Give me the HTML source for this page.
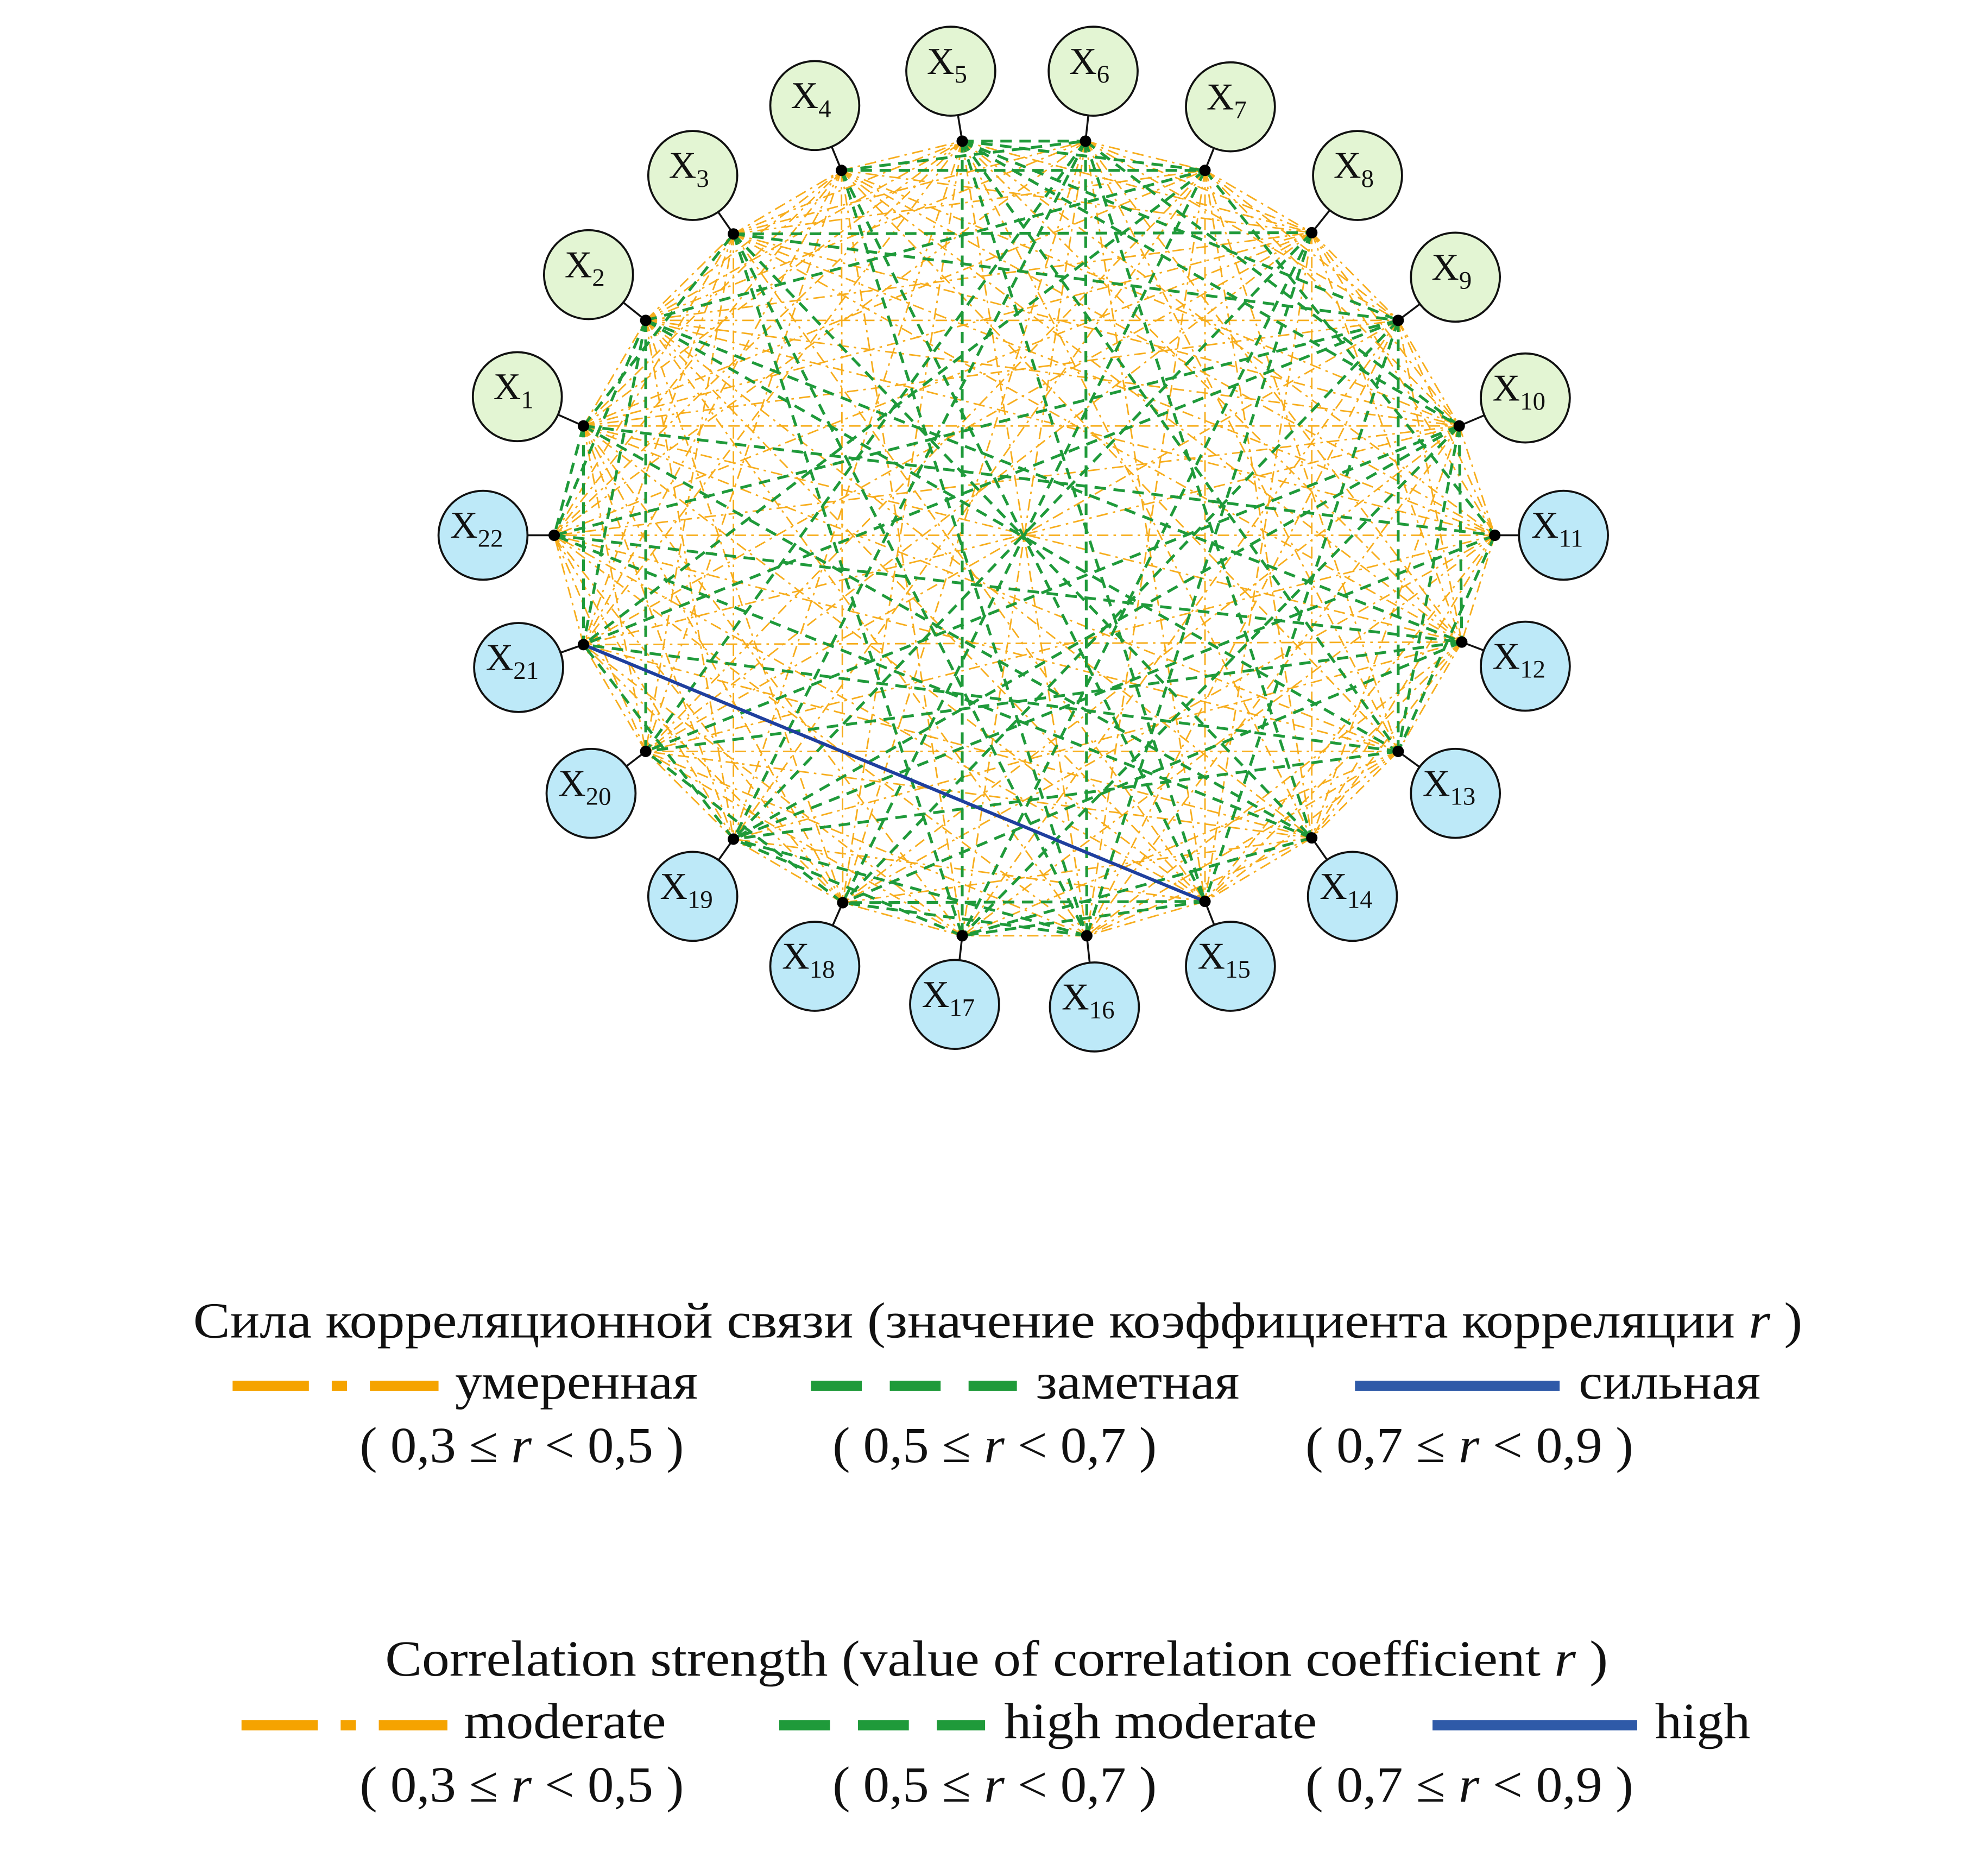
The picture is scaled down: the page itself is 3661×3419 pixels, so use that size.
<!DOCTYPE html>
<html><head><meta charset="utf-8"><style>
html,body{margin:0;padding:0;background:#fff;}
svg{display:block;}
text{font-family:"Liberation Serif",serif;fill:#111;}
</style></head><body>
<svg id="s" width="3661" height="3419" viewBox="0 0 1564 1460.6" xmlns="http://www.w3.org/2000/svg">
<g id="edges"></g>
<g id="nodes"></g>
<g font-size="40">
<text x="152" y="1052" textLength="1266" lengthAdjust="spacingAndGlyphs">Сила корреляционной связи (значение коэффициента корреляции  <tspan font-style="italic">r</tspan> )</text>
<line x1="183" y1="1090" x2="345" y2="1090" stroke="#f5a300" stroke-width="8" stroke-dasharray="60,18,12,18"/>
<line x1="638" y1="1090" x2="800" y2="1090" stroke="#1f9a3a" stroke-width="8" stroke-dasharray="40,22"/>
<line x1="1066" y1="1090" x2="1227" y2="1090" stroke="#2f5aa8" stroke-width="8"/>
<text x="358" y="1100" textLength="191" lengthAdjust="spacingAndGlyphs">умеренная</text>
<text x="815" y="1100" textLength="160" lengthAdjust="spacingAndGlyphs">заметная</text>
<text x="1242" y="1100" textLength="143" lengthAdjust="spacingAndGlyphs">сильная</text>
<text x="283" y="1150" textLength="255" lengthAdjust="spacingAndGlyphs">( 0,3 ≤ <tspan font-style="italic">r</tspan> &lt; 0,5 )</text>
<text x="655" y="1150" textLength="255" lengthAdjust="spacingAndGlyphs">( 0,5 ≤ <tspan font-style="italic">r</tspan> &lt; 0,7 )</text>
<text x="1027" y="1150" textLength="258" lengthAdjust="spacingAndGlyphs">( 0,7 ≤ <tspan font-style="italic">r</tspan> &lt; 0,9 )</text>
<text x="303" y="1318" textLength="962" lengthAdjust="spacingAndGlyphs">Correlation strength (value of correlation coefficient  <tspan font-style="italic">r</tspan> )</text>
<line x1="190" y1="1357" x2="352" y2="1357" stroke="#f5a300" stroke-width="8" stroke-dasharray="60,18,12,18"/>
<line x1="613" y1="1357" x2="775" y2="1357" stroke="#1f9a3a" stroke-width="8" stroke-dasharray="40,22"/>
<line x1="1127" y1="1357" x2="1288" y2="1357" stroke="#2f5aa8" stroke-width="8"/>
<text x="365" y="1367" textLength="159" lengthAdjust="spacingAndGlyphs">moderate</text>
<text x="790" y="1367" textLength="246" lengthAdjust="spacingAndGlyphs">high moderate</text>
<text x="1302" y="1367" textLength="75" lengthAdjust="spacingAndGlyphs">high</text>
<text x="283" y="1417" textLength="255" lengthAdjust="spacingAndGlyphs">( 0,3 ≤ <tspan font-style="italic">r</tspan> &lt; 0,5 )</text>
<text x="655" y="1417" textLength="255" lengthAdjust="spacingAndGlyphs">( 0,5 ≤ <tspan font-style="italic">r</tspan> &lt; 0,7 )</text>
<text x="1027" y="1417" textLength="258" lengthAdjust="spacingAndGlyphs">( 0,7 ≤ <tspan font-style="italic">r</tspan> &lt; 0,9 )</text>
</g>
</svg>
<script>
var C=[[407,312],[463,216],[545,138],[641,83],[748,56],[860,56],[968,84],[1068,138],[1145,218],[1200,313],[1230,421],[1200,524],[1145,624],[1064,705],[968,760],[861,792],[751,790],[641,760],[545,705],[465,624],[408,525],[380,421]];
var D=[[459,335],[508,252],[577,184],[662,134],[757,111],[854,111],[948,134],[1032,183],[1100,252],[1148,335],[1176,421],[1150,505],[1100,591],[1032,659],[948,709],[855,736],[757,736],[663,710],[577,660],[508,591],[459,507],[436,421]];
var G=[[5,17],[6,16],[6,19],[6,20],[5,13],[7,18],[7,21],[8,19],[3,14],[2,13],[9,21],[9,22],[10,20],[9,15],[1,14],[3,16],[4,15],[2,12],[11,19],[12,18],[13,19],[14,17],[12,20],[10,17],[3,9],[5,9],[4,7],[6,10],[1,21],[2,22],[1,3],[2,20],[9,13],[10,12],[11,13],[15,17],[16,18],[17,19],[18,20],[19,21],[3,17],[8,17],[6,14],[5,15],[4,16],[9,18],[10,19],[22,12],[1,11],[2,7],[3,8],[5,10],[7,11],[8,16],[13,21],[14,22],[1,22],[2,21],[10,13],[5,7],[4,6],[5,6],[15,18],[16,19]];
var NS="http://www.w3.org/2000/svg";
var E=document.getElementById("edges"),N=document.getElementById("nodes");
function ln(p,q,col,w,da,par){var l=document.createElementNS(NS,"line");l.setAttribute("x1",p[0]);l.setAttribute("y1",p[1]);l.setAttribute("x2",q[0]);l.setAttribute("y2",q[1]);l.setAttribute("stroke",col);l.setAttribute("stroke-width",w);if(da)l.setAttribute("stroke-dasharray",da);par.appendChild(l);}
var gs={};G.forEach(function(g){gs[Math.min(g[0],g[1])+"-"+Math.max(g[0],g[1])]=1;});
for(var i=0;i<22;i++)for(var j=i+1;j<22;j++){if(gs[(i+1)+"-"+(j+1)])continue;if((i*7+j*3)%5==0)continue;ln(D[i],D[j],"#f7ad1c",1.2,"9,4,2,4",E);}
G.forEach(function(g){ln(D[g[0]-1],D[g[1]-1],"#1f9a3a",2.2,"9,6",E);});
ln(D[20],D[14],"#1f3f9e",2.6,null,E);
for(var i=0;i<22;i++){
ln(C[i],D[i],"#111",1.5,null,N);
var c=document.createElementNS(NS,"circle");c.setAttribute("cx",C[i][0]);c.setAttribute("cy",C[i][1]);c.setAttribute("r",35);c.setAttribute("fill",i<10?"#e3f5d3":"#bde9f8");c.setAttribute("stroke","#111");c.setAttribute("stroke-width",1.6);N.appendChild(c);
var d=document.createElementNS(NS,"circle");d.setAttribute("cx",D[i][0]);d.setAttribute("cy",D[i][1]);d.setAttribute("r",4.5);d.setAttribute("fill","#000");N.appendChild(d);
var t=document.createElementNS(NS,"text");t.setAttribute("x",C[i][0]-(i+1>9?5:3));t.setAttribute("y",C[i][1]+2);t.setAttribute("text-anchor","middle");t.setAttribute("font-size","30");
t.innerHTML='X<tspan font-size="20" dy="7">'+(i+1)+'</tspan>';N.appendChild(t);}
</script>
</body></html>
